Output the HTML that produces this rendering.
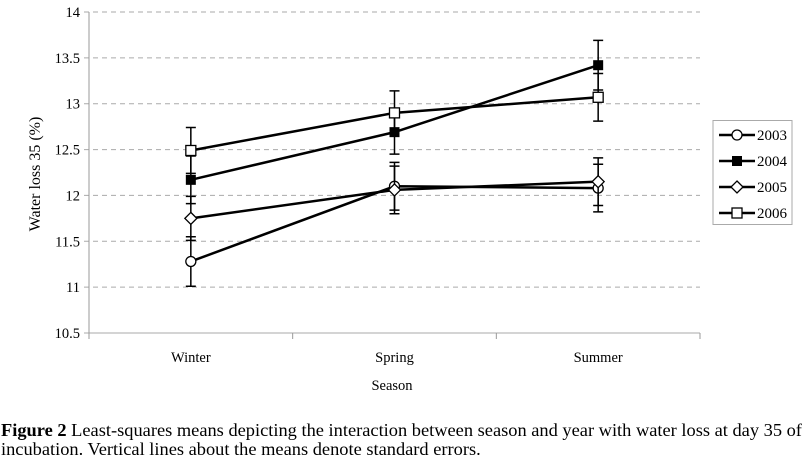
<!DOCTYPE html>
<html><head><meta charset="utf-8"><style>
body{margin:0;background:#fff;width:806px;height:458px;overflow:hidden;font-family:"Liberation Serif",serif;}
#cap{position:absolute;left:1px;top:421px;width:806px;font-size:18.4px;line-height:18.5px;color:#000;white-space:nowrap;}
</style></head><body>
<svg id="chart" width="806" height="420" style="position:absolute;left:0;top:0" font-family="Liberation Serif, serif"></svg>
<div id="cap"><b>Figure 2</b> Least-squares means depicting the interaction between season and year with water loss at day 35 of<br>incubation. Vertical lines about the means denote standard errors.</div>
<script>
const categories=["Winter","Spring","Summer"];
const years=["2003","2004","2005","2006"];
const markers=["circle","filledSquare","diamond","square"];
const v2003=[11.28,12.10,12.08];
const v2004=[12.17,12.69,13.42];
const v2005=[11.75,12.06,12.15];
const v2006=[12.49,12.90,13.07];
const se2003=[0.27,0.26,0.26];
const se2004=[0.26,0.24,0.27];
const se2005=[0.24,0.26,0.26];
const se2006=[0.25,0.24,0.26];
const yTicks=[10.5,11,11.5,12,12.5,13,13.5,14];
const series=[v2003,v2004,v2005,v2006];
const errs=[se2003,se2004,se2005,se2006];

const NS="http://www.w3.org/2000/svg";
const svg=document.getElementById('chart');
const L=89,R=700,T=12,B=333,ymin=10.5,ymax=14;
const y=v=>B-(v-ymin)/(ymax-ymin)*(B-T);
const cw=(R-L)/categories.length;
const x=i=>L+cw*(i+0.5);
function el(t,a,p){const e=document.createElementNS(NS,t);for(const k in a)e.setAttribute(k,a[k]);(p||svg).appendChild(e);return e;}

yTicks.forEach(t=>{
  const g=el('line',{x1:L-5,x2:R,y1:y(t),y2:y(t),stroke:'#aaa','stroke-width':1,'stroke-dasharray':t===ymin?'':'5,4'});
  
  
  const tx=el('text',{x:L-9,y:y(t)+5,'text-anchor':'end','font-size':14.5});
  tx.textContent=String(t);
  
  
});
const ax=el('line',{x1:L,x2:L,y1:T,y2:B,stroke:'#999'});


for(let i=0;i<=categories.length;i++){
  const tk=el('line',{x1:L+cw*i,x2:L+cw*i,y1:B,y2:B+6,stroke:'#999'});
  
  
}
categories.forEach((c,i)=>{
  const t=el('text',{x:x(i),y:362,'text-anchor':'middle','font-size':14.5});
  t.textContent=c;
  
  
});
const xt=el('text',{x:392,y:390,'text-anchor':'middle','font-size':14.5});
xt.textContent='Season';


const yt=el('text',{x:0,y:0,'text-anchor':'middle','font-size':16,transform:'translate(40,174) rotate(-90)'});
yt.textContent='Water loss 35 (%)';



function marker(type,cx,cy,p){
  let m;
  if(type==='circle')m=el('circle',{cx,cy,r:5,fill:'#fff',stroke:'#000','stroke-width':1.3},p);
  else if(type==='filledSquare')m=el('rect',{x:cx-5,y:cy-5,width:10,height:10,fill:'#000'},p);
  else if(type==='square')m=el('rect',{x:cx-5,y:cy-5,width:10,height:10,fill:'#fff',stroke:'#000','stroke-width':1.3},p);
  else m=el('polygon',{points:`${cx},${cy-6} ${cx+6},${cy} ${cx},${cy+6} ${cx-6},${cy}`,fill:'#fff',stroke:'#000','stroke-width':1.3},p);
  return m;
}
series.forEach((s,k)=>{
  const g=el('g',{});
  
  
  s.forEach((v,i)=>{
    const e=errs[k][i];
    const eb=el('path',{d:`M${x(i)},${y(v+e)}V${y(v-e)}M${x(i)-5},${y(v+e)}h10M${x(i)-5},${y(v-e)}h10`,stroke:'#000','stroke-width':1.5,fill:'none'},g);
    
    
  });
  const ln=el('polyline',{points:s.map((v,i)=>x(i)+','+y(v)).join(' '),fill:'none',stroke:'#000','stroke-width':2.5},g);
  
  
  s.forEach((v,i)=>{
    const m=marker(markers[k],x(i),y(v),g);
    
    
  });
});
const lg=el('g',{});


el('rect',{x:713,y:120.5,width:79,height:104,fill:'#fff',stroke:'#aaa'},lg);
years.forEach((yr,k)=>{
  const cy=135+k*26;
  const e=el('g',{},lg);
  
  
  el('line',{x1:719,x2:755,y1:cy,y2:cy,stroke:'#000','stroke-width':2.5},e);
  marker(markers[k],737,cy,e);
  const t=el('text',{x:757,y:cy+5,'font-size':15},e);
  t.textContent=yr;
});
</script>
</body></html>
